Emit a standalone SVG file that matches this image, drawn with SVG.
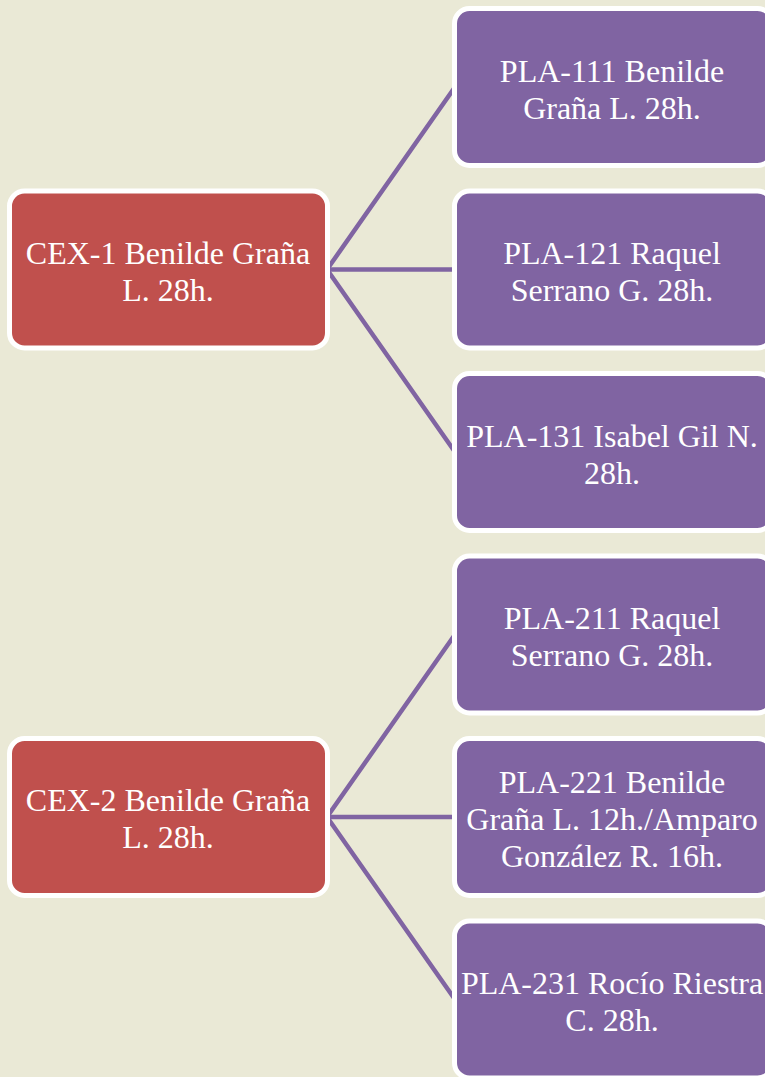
<svg xmlns="http://www.w3.org/2000/svg" width="765" height="1077" viewBox="0 0 765 1077">
<style>
.bg{fill:#EAE9D6}
.red{fill:#C0504D;stroke:#FFFFFF;stroke-width:5}
.pur{fill:#8064A2;stroke:#FFFFFF;stroke-width:5}
.t{font-family:"Liberation Serif","Times New Roman",serif;font-size:32px;fill:#FFFFFF;text-anchor:middle}
.c{stroke:#8064A2;stroke-width:4.5;fill:none;stroke-linecap:round}
</style>
<rect class="bg" x="0" y="0" width="765" height="1077"/>
<g id="connectors">
<line class="c" x1="327" y1="269.5" x2="455" y2="87"/>
<line class="c" x1="327" y1="269.5" x2="455" y2="269.5"/>
<line class="c" x1="327" y1="269.5" x2="455" y2="452"/>
<line class="c" x1="327" y1="817" x2="455" y2="634.5"/>
<line class="c" x1="327" y1="817" x2="455" y2="817"/>
<line class="c" x1="327" y1="817" x2="455" y2="999.5"/>
</g>
<g id="cex1">
<rect class="red" x="9.5" y="191" width="318" height="157" rx="15"/>
<text class="t" x="168" y="263.5">CEX-1 Benilde Graña</text>
<text class="t" x="168" y="300.5">L. 28h.</text>
</g>
<g id="cex2">
<rect class="red" x="9.5" y="738.5" width="318" height="157" rx="15"/>
<text class="t" x="168" y="811">CEX-2 Benilde Graña</text>
<text class="t" x="168" y="848">L. 28h.</text>
</g>
<g id="pla111">
<rect class="pur" x="454.5" y="8.5" width="318" height="157" rx="15"/>
<text class="t" x="612" y="82">PLA-111 Benilde</text>
<text class="t" x="612" y="119">Graña L. 28h.</text>
</g>
<g id="pla121">
<rect class="pur" x="454.5" y="191" width="318" height="157" rx="15"/>
<text class="t" x="612" y="264">PLA-121 Raquel</text>
<text class="t" x="612" y="301">Serrano G. 28h.</text>
</g>
<g id="pla131">
<rect class="pur" x="454.5" y="373.5" width="318" height="157" rx="15"/>
<text class="t" x="612" y="446.5">PLA-131 Isabel Gil N.</text>
<text class="t" x="612" y="483.5">28h.</text>
</g>
<g id="pla211">
<rect class="pur" x="454.5" y="556" width="318" height="157" rx="15"/>
<text class="t" x="612" y="629">PLA-211 Raquel</text>
<text class="t" x="612" y="666">Serrano G. 28h.</text>
</g>
<g id="pla221">
<rect class="pur" x="454.5" y="738.5" width="318" height="157" rx="15"/>
<text class="t" x="612" y="793">PLA-221 Benilde</text>
<text class="t" x="612" y="830">Graña L. 12h./Amparo</text>
<text class="t" x="612" y="867">González R. 16h.</text>
</g>
<g id="pla231">
<rect class="pur" x="454.5" y="921" width="318" height="157" rx="15"/>
<text class="t" x="612" y="994">PLA-231 Rocío Riestra</text>
<text class="t" x="612" y="1031">C. 28h.</text>
</g>
</svg>
